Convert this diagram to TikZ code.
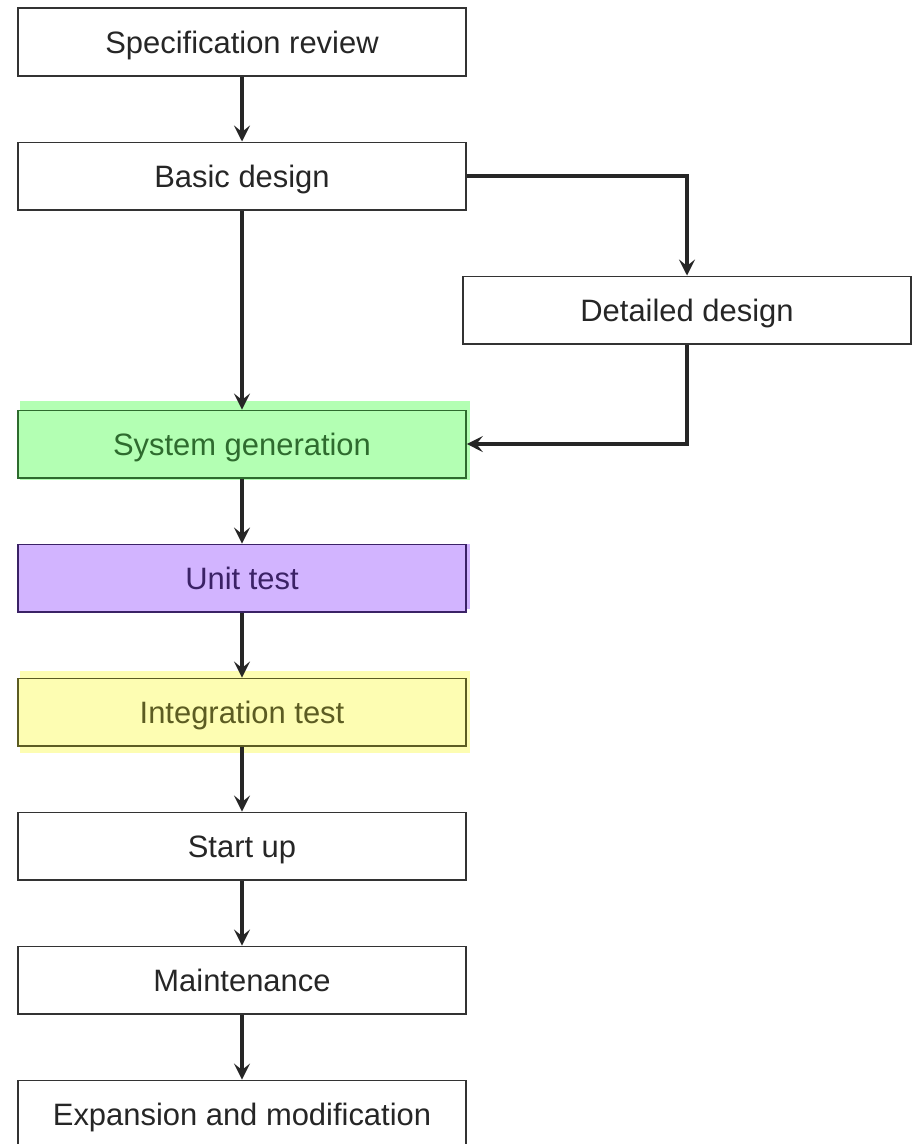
\documentclass[tikz,border=0pt]{standalone}
\usepackage{fontspec}
\setmainfont{Liberation Sans}
\usepackage{tikz}
\usetikzlibrary{calc,positioning,arrows.meta,backgrounds}
\definecolor{boxline}{HTML}{333333}
\definecolor{greenfill}{HTML}{B3FFB3}
\definecolor{greentext}{HTML}{2E6B2E}
\definecolor{purplefill}{HTML}{D2B4FF}
\definecolor{purpletext}{HTML}{3B2266}
\definecolor{yellowfill}{HTML}{FDFDB2}
\definecolor{yellowtext}{HTML}{5C5C22}
\tikzset{
  stepbox/.style  = {shape=rectangle, draw=boxline, line width=1.2pt,
                     minimum width=11.2cm, minimum height=1.683cm,
                     text height=15.75pt, text depth=0pt,
                     align=center, text=black!85,
                     font=\fontsize{22}{26}\selectfont},
  sysbox/.style   = {stepbox, fill=greenfill, draw=greentext, text=greentext},
  unitbox/.style  = {stepbox, fill=purplefill, draw=purpletext, text=purpletext},
  integbox/.style = {stepbox, fill=yellowfill, draw=yellowtext, text=yellowtext},
  flow/.style     = {line width=2.2pt, draw=black!85}
}

\begin{document}
\begin{tikzpicture} [->,>={Stealth[length=0.4cm,width=0.4cm,inset=0.16cm]},node distance=1.625cm]
\useasboundingbox (0,0) rectangle (22.8,-28.6);
\node [stepbox] (spec) at (6.05,-1.05) {Specification review};
\node [stepbox, below=of spec] (basic) {Basic design};
\node [stepbox, below=of basic, xshift=11.125cm] (detail) {Detailed design};
\node [sysbox, below=of detail, xshift=-11.125cm] (sysgen) {System generation};
\node [unitbox, below=of sysgen] (unit) {Unit test};
\node [integbox, below=of unit] (integ) {Integration test};
\node [stepbox, below=of integ] (start) {Start up};
\node [stepbox, below=of start] (maint) {Maintenance};
\node [stepbox, below=of maint] (expand) {Expansion and modification};

% highlight marks behind the coloured steps
\begin{scope}[on background layer]
\fill [greenfill] ($(sysgen.north west)+(0.075,0.225)$) rectangle ($(sysgen.south east)+(0.075,-0.025)$);
\fill [purplefill] ($(unit.north west)+(0.075,0)$) rectangle ($(unit.south east)+(0.075,0.1)$);
\fill [yellowfill] ($(integ.north west)+(0.075,0.175)$) rectangle ($(integ.south east)+(0.075,-0.15)$);
\end{scope}

\draw [flow] (spec) -- (basic);
\draw [flow] (basic) -- (sysgen);
\draw [flow] (basic.east) -| (detail.north);
\draw [flow] (detail.south) |- (sysgen.east);
\draw [flow] (sysgen) -- (unit);
\draw [flow] (unit) -- (integ);
\draw [flow] (integ) -- (start);
\draw [flow] (start) -- (maint);
\draw [flow] (maint) -- (expand);
\end{tikzpicture}
\end{document}
